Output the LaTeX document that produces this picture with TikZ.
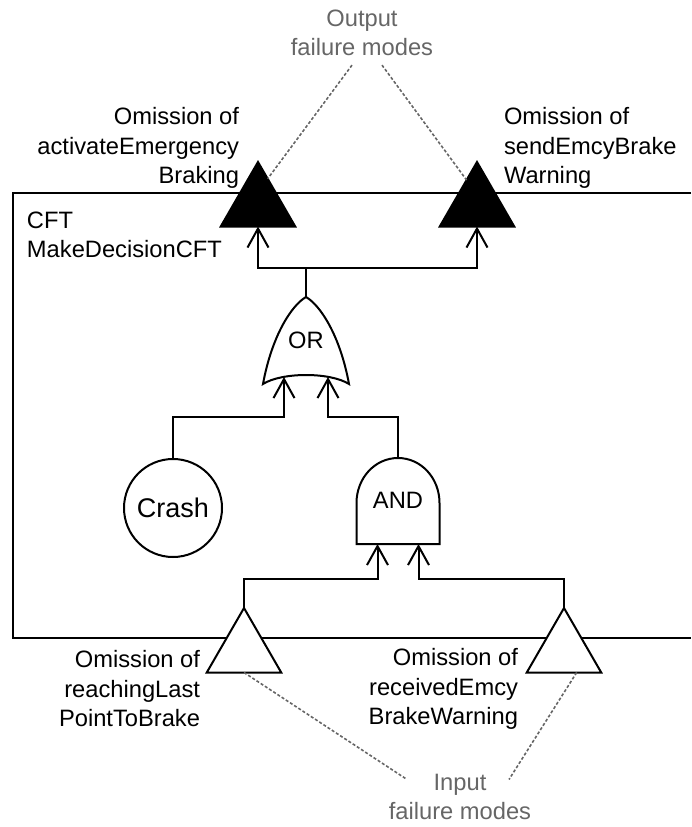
\documentclass[tikz,border=0pt]{standalone}
\usepackage{fontspec}
\setmainfont{Liberation Sans}
\usetikzlibrary{arrows.meta,shapes.geometric,calc}
\definecolor{notegray}{RGB}{102,102,102}
\begin{document}
\begin{tikzpicture}[x=1pt,y=-1pt,
  every node/.style={font=\fontsize{23.7}{29.5}\selectfont, inner sep=0pt, outer sep=0pt},
  wire/.style={line width=2pt},
  arr/.style={wire, -{Straight Barb[length=19pt,width=21pt]}},
  port/.style={regular polygon, regular polygon sides=3, minimum size=86pt, draw, line width=2pt},
  outport/.style={port, fill=black},
  inport/.style={port, fill=white},
  note/.style={text=notegray, align=center},
  link/.style={draw=notegray, line width=1.6pt, dash pattern=on 3pt off 2pt},
]
\useasboundingbox (0,0) rectangle (691,827);

% component boundary (open to the right)
\draw[wire] (691,193) -- (13,193) -- (13,638) -- (691,638);
\node[align=left, anchor=west] (cft) at (27,235) {CFT\\MakeDecisionCFT};

% output and input failure-mode ports
\node[outport] (oA) at (258,205) {};
\node[outport] (oB) at (477,205) {};
\node[inport]  (iA) at (244,651) {};
\node[inport]  (iB) at (564,651) {};
\coordinate (oA-in) at ($(oA.corner 2)!0.5!(oA.corner 3)$);
\coordinate (oB-in) at ($(oB.corner 2)!0.5!(oB.corner 3)$);

% OR gate
\node (or) at (306,340) {OR};
\begin{scope}[shift={(or)}]
  \draw[wire] (-43,44) .. controls (-34,-5) and (-14,-35) .. (0,-43)
              .. controls (14,-35) and (34,-5) .. (43,44)
              .. controls (24,32) and (-24,32) .. cycle;
  \coordinate (or-top) at (0,-43);
  \coordinate (or-inL) at (-22,37);
  \coordinate (or-inR) at (22,37);
\end{scope}

% AND gate
\node (and) at (398,500) {AND};
\begin{scope}[shift={(and)}]
  \draw[wire] (-41.5,3) .. controls (-41.5,-22) and (-23,-42) .. (0,-42)
              .. controls (23,-42) and (41.5,-22) .. (41.5,3)
              -- (41.5,44) -- (-41.5,44) -- cycle;
  \coordinate (and-top) at (0,-42);
  \coordinate (and-inL) at (-20.5,44);
  \coordinate (and-inR) at (20.5,44);
\end{scope}

% basic event
\node[circle, draw, wire, minimum size=98pt, font=\fontsize{27}{32}\selectfont] (crash) at (173,508) {Crash};

% connections
\coordinate (topbus) at (0,268);
\coordinate (midbus) at (0,417);
\coordinate (lowbus) at (0,579);
\draw[arr] (or-top) -- (or-top |- topbus) -| (oA-in);
\draw[arr] (or-top |- topbus) -| (oB-in);
\draw[arr] (crash.north) -- (crash.north |- midbus) -| (or-inL);
\draw[arr] (and-top) -- (and-top |- midbus) -| (or-inR);
\draw[arr] (iA.corner 1) -- (iA.corner 1 |- lowbus) -| (and-inL);
\draw[arr] (iB.corner 1) -- (iB.corner 1 |- lowbus) -| (and-inR);

% port labels
\node[align=right, anchor=east] (oA-lbl) at (239,148) {Omission of\\activateEmergency\\Braking};
\node[align=left, anchor=west] (oB-lbl) at (504,148) {Omission of\\sendEmcyBrake\\Warning};
\node[align=right, anchor=east] (iA-lbl) at (200,689) {Omission of\\reachingLast\\PointToBrake};
\node[align=right, anchor=east] (iB-lbl) at (518,689) {Omission of\\receivedEmcy\\BrakeWarning};

% annotations
\node[note] (outlbl) at (362,33) {Output\\failure modes};
\node[note, font=\fontsize{23.7}{28.5}\selectfont] (inlbl) at (460,797) {Input\\failure modes};
\draw[link] ($(outlbl.south)+(-10,9)$) -- ($(oA.corner 1)!0.26!(oA.corner 3)$);
\draw[link] ($(outlbl.south)+(20,9)$) -- ($(oB.corner 1)!0.28!(oB.corner 2)$);
\draw[link] ($(iA.corner 2)!0.5!(iA.corner 3)$) -- ($(inlbl.north)+(-53,5)$);
\draw[link] ($(iB.corner 2)!0.67!(iB.corner 3)$) -- ($(inlbl.north)+(49,5)$);
\end{tikzpicture}
\end{document}
